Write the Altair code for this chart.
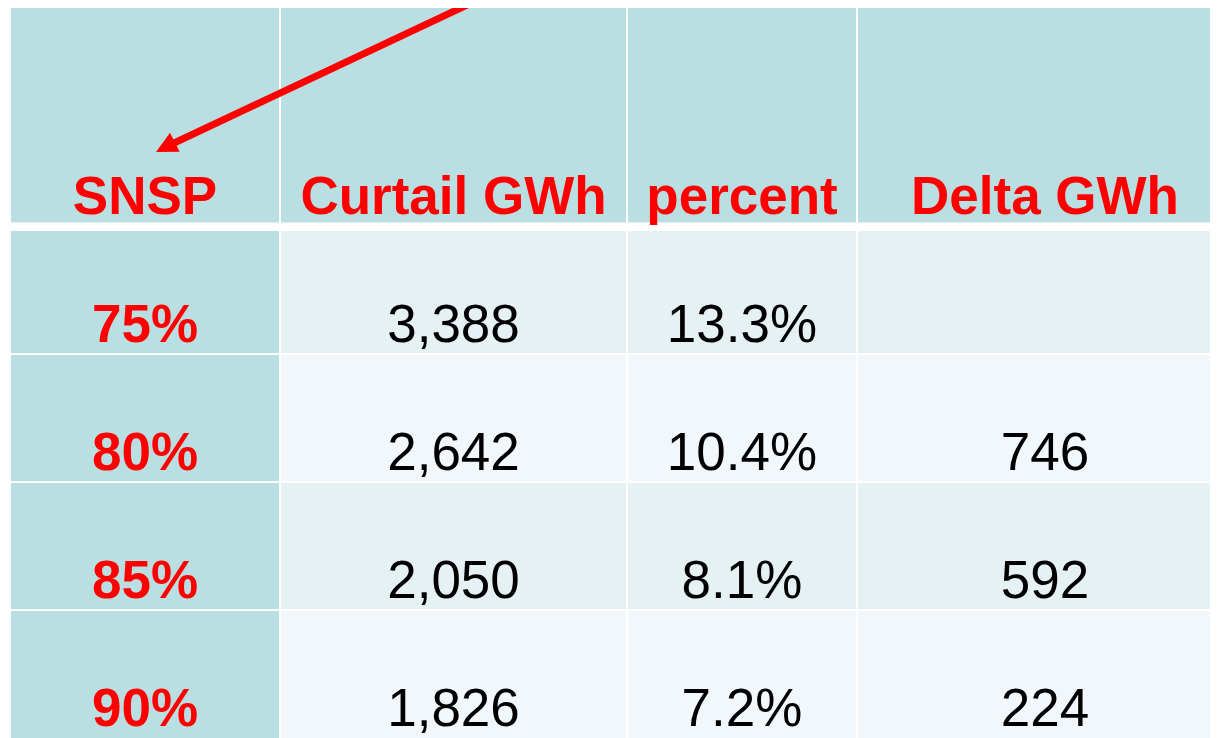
import altair as alt
import pandas as pd

# ---- table content ----
headers = ["SNSP", "Curtail GWh", "percent", "Delta GWh"]
snsp = ["75%", "80%", "85%", "90%"]
curtail_gwh = [3388, 2642, 2050, 1826]
percent = [13.3, 10.4, 8.1, 7.2]
delta_gwh = [None, 746, 592, 224]

# ---- layout (reference pixel coordinates) ----
col_left = [11, 281, 628, 858]
col_right = [279, 626, 856, 1232]
row_top = [4, 231, 355, 483, 611]
row_bottom = [222.5, 353, 481, 609, 760]
baseline_offset = [8.5, 11, 11, 11, 11]

HEADER_BG = "#BADFE2"
ROW_BG = ["#E5F1F3", "#F1F7FA"]
RED = "#FF0000"
FONT = "Liberation Sans"
FSIZE = 53

# arrow (annotation) endpoints
arrow_start = (482, -2)
arrow_tip = (156, 152)
arrow_line_end = (172, 144)

# ---- build tables ----
cells = []
for r in range(5):
    for c in range(4):
        if r == 0 or c == 0:
            fill = HEADER_BG
        else:
            fill = ROW_BG[(r - 1) % 2]
        cells.append(dict(x0=col_left[c], x1=col_right[c],
                          y0=row_top[r], y1=row_bottom[r], fill=fill))
cells_df = pd.DataFrame(cells)

bold_txt = []
reg_txt = []
for c, h in enumerate(headers):
    bold_txt.append(dict(x=(col_left[c] + col_right[c]) / 2,
                         y=row_bottom[0] - baseline_offset[0], label=h))
for i in range(4):
    r = i + 1
    yb = row_bottom[r] - baseline_offset[r] if r < 4 else 726
    bold_txt.append(dict(x=(col_left[0] + col_right[0]) / 2, y=yb, label=snsp[i]))
    vals = [f"{curtail_gwh[i]:,}", f"{percent[i]:.1f}%",
            "" if delta_gwh[i] is None else f"{delta_gwh[i]:,}"]
    for c in range(1, 4):
        if vals[c - 1]:
            reg_txt.append(dict(x=(col_left[c] + col_right[c]) / 2, y=yb,
                                label=vals[c - 1]))
bold_df = pd.DataFrame(bold_txt)
reg_df = pd.DataFrame(reg_txt)

arrow_df = pd.DataFrame([dict(x=arrow_start[0], y=arrow_start[1],
                              x2=arrow_line_end[0], y2=arrow_line_end[1])])
head_df = pd.DataFrame([dict(x=arrow_tip[0], y=arrow_tip[1])])

# visible area: page margin 8px
W, H = 1202, 730
xs = alt.Scale(domain=[8, 8 + W], range=[0, W], nice=False, zero=False)
ys = alt.Scale(domain=[8, 8 + H], range=[0, H], nice=False, zero=False)

rects = alt.Chart(cells_df).mark_rect(clip=True).encode(
    x=alt.X("x0:Q", scale=xs, axis=None), x2="x1:Q",
    y=alt.Y("y0:Q", scale=ys, axis=None), y2="y1:Q",
    color=alt.Color("fill:N", scale=None),
)

bold = alt.Chart(bold_df).mark_text(
    font=FONT, fontSize=FSIZE, fontWeight="bold", color=RED,
    align="center", baseline="alphabetic",
).encode(x=alt.X("x:Q", scale=xs), y=alt.Y("y:Q", scale=ys), text="label:N")

reg = alt.Chart(reg_df).mark_text(
    font=FONT, fontSize=FSIZE, color="#000000",
    align="center", baseline="alphabetic",
).encode(x=alt.X("x:Q", scale=xs), y=alt.Y("y:Q", scale=ys), text="label:N")

arrow = alt.Chart(arrow_df).mark_rule(color=RED, strokeWidth=7, clip=True).encode(
    x=alt.X("x:Q", scale=xs), y=alt.Y("y:Q", scale=ys), x2="x2:Q", y2="y2:Q"
)

head = alt.Chart(head_df).mark_point(
    shape="M0,0 L0.5,1 L-0.5,1 Z", filled=True, color=RED, opacity=1,
    size=1800, angle=242.7, strokeWidth=0,
).encode(x=alt.X("x:Q", scale=xs), y=alt.Y("y:Q", scale=ys))

chart = alt.layer(rects, bold, reg, arrow, head).properties(
    width=W, height=H, padding=0, autosize=alt.AutoSizeParams(type="none"),
    background="#FFFFFF",
).configure_view(stroke=None)

chart.save("out.html", embed_options={"renderer": "svg", "actions": False})
